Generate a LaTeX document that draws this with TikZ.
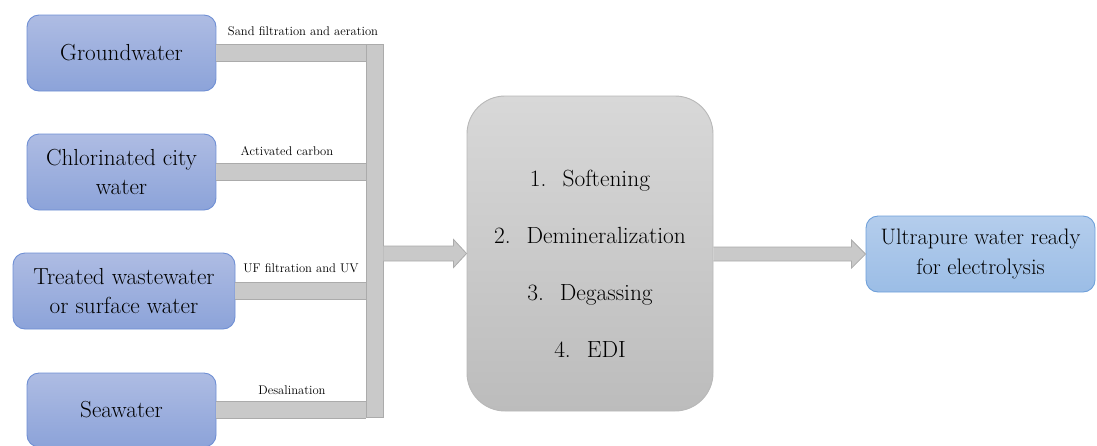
\documentclass[tikz,border=0pt]{standalone}
\usetikzlibrary{calc,shadings}
\definecolor{bluetop}{HTML}{AEBCE3}
\definecolor{bluebot}{HTML}{8CA3D9}
\definecolor{blueline}{HTML}{6F8FD4}
\definecolor{ltop}{HTML}{B4CDEC}
\definecolor{lbot}{HTML}{9BBDE6}
\definecolor{lline}{HTML}{6FA0DA}
\definecolor{gtop}{HTML}{D8D8D8}
\definecolor{gbot}{HTML}{BCBCBC}
\definecolor{gline}{HTML}{B8B8B8}
\definecolor{barfill}{HTML}{C9C9C9}
\definecolor{barline}{HTML}{ABABAB}
\tikzset{
  srcbox/.style={draw=blueline, line width=0.9pt, rounded corners=12pt, top color=bluetop, bottom color=bluebot,
    minimum height=76pt, align=center, font=\fontsize{23.2}{29.5}\selectfont, inner sep=0pt},
  outbox/.style={draw=lline, line width=0.9pt, rounded corners=12pt, top color=ltop, bottom color=lbot,
    minimum height=76pt, minimum width=229pt, align=center, font=\fontsize{22.4}{30}\selectfont, inner sep=0pt},
  procbox/.style={draw=gline, line width=0.9pt, rounded corners=38pt, top color=gtop, bottom color=gbot,
    minimum width=246pt, minimum height=315pt, inner sep=0pt},
  busbar/.style={draw=barline, fill=barfill, line width=0.9pt, minimum width=17pt, minimum height=373pt, inner sep=0pt},
  hbar/.style={draw=barline, line width=0.9pt, double=barfill, double distance=16pt},
  blockarrow/.style={draw=barline, fill=barfill, line width=0.8pt, line join=miter},
  steplabel/.style={font=\fontsize{12.6}{15}\selectfont, inner sep=0pt},
}
\begin{document}
\begin{tikzpicture}[x=1pt,y=-1pt]
\useasboundingbox (0,0) rectangle (1097,445);
% source boxes
\node[srcbox, minimum width=189pt] (gw) at (121.5,53) {Groundwater};
\node[srcbox, minimum width=189pt] (cc) at (121.5,172) {Chlorinated city\\water};
\node[srcbox, minimum width=222pt] (tw) at (124,291) {Treated wastewater\\or surface water};
\node[srcbox, minimum width=189pt, minimum height=74pt] (sw) at (121.5,410) {Seawater};
% collector bus
\node[busbar] (bus) at (374.5,230.5) {};
% horizontal bars
\draw[hbar] (gw.east) -- (gw.east -| bus.west);
\draw[hbar] (cc.east) -- (cc.east -| bus.west);
\draw[hbar] (tw.east) -- (tw.east -| bus.west);
\draw[hbar] (sw.east) -- (sw.east -| bus.west);
\node[busbar] at (bus) {};
% labels
\node[steplabel] (l1) at (303,31) {Sand filtration and aeration};
\node[steplabel] (l2) at (287,151) {Activated carbon};
\node[steplabel] (l3) at (301,268) {UF filtration and UV};
\node[steplabel] (l4) at (292,390) {Desalination};
% process box
\node[procbox] (proc) at (590,253.5) {};
\node[align=center, font=\fontsize{23.4}{57}\selectfont, inner sep=0pt] (steps) at ($(proc.center)+(0,10)$)
  {1.\hspace{16pt}Softening\\2.\hspace{16pt}Demineralization\\3.\hspace{16pt}Degassing\\4.\hspace{16pt}EDI};
% output box
\node[outbox] (up) at (980.5,254) {Ultrapure water ready\\for electrolysis};
% block arrows
\draw[blockarrow] ($(bus.east |- proc.west)+(0,-7.5)$) -- ($(proc.west)+(-13,-7.5)$) -- ($(proc.west)+(-13,-14)$)
  -- (proc.west) -- ($(proc.west)+(-13,14)$) -- ($(proc.west)+(-13,7.5)$) -- ($(bus.east |- proc.west)+(0,7.5)$);
\draw[blockarrow] ($(proc.east |- up.west)+(0,-7)$) -- ($(up.west)+(-14,-7)$) -- ($(up.west)+(-14,-14)$)
  -- (up.west) -- ($(up.west)+(-14,14)$) -- ($(up.west)+(-14,7)$) -- ($(proc.east |- up.west)+(0,7)$);
\end{tikzpicture}
\end{document}
